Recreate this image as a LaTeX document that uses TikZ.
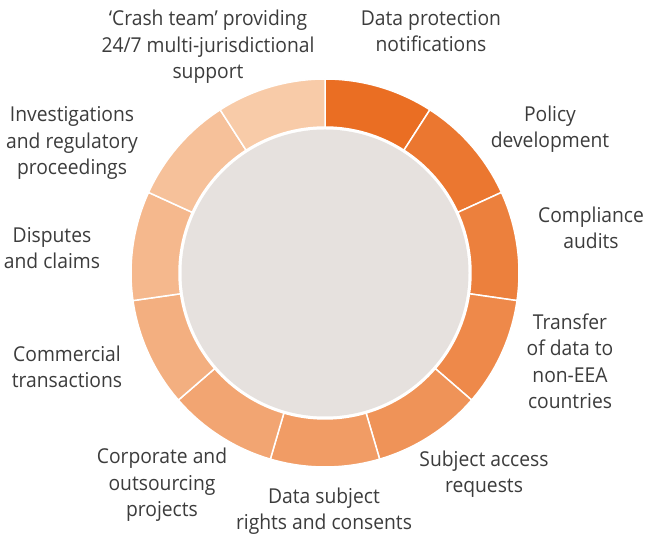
\documentclass[tikz,border=0pt]{standalone}
\usepackage{fontspec}
\setmainfont{Open Sans}[FakeStretch=0.94]
\definecolor{txt}{RGB}{60,60,60}
\definecolor{disk}{RGB}{230,225,222}
\begin{document}
\begin{tikzpicture}[x=1pt,y=1pt,
  lbl/.style={align=center, font=\fontsize{20.5}{26.5}\selectfont, text=txt, inner sep=0pt, anchor=base}]
\useasboundingbox (0,0) rectangle (645,535);
\fill[white] (0,0) rectangle (645,535);
\coordinate (c) at (325,262);
\foreach \i in {0,...,10} {
  \pgfmathsetmacro\angA{90-360/11*\i}
  \pgfmathsetmacro\angB{90-360/11*(\i+1)}
  \pgfmathtruncatemacro\cr{234+14*\i/10}
  \pgfmathtruncatemacro\cg{110+93*\i/10}
  \pgfmathtruncatemacro\cb{35+133*\i/10}
  \definecolor{seg}{RGB}{\cr,\cg,\cb}
  \fill[seg, draw=white, line width=1.5pt] ([shift={(\angA:194)}]c) arc[start angle=\angA, end angle=\angB, radius=194]
    -- ([shift={(\angB:146)}]c) arc[start angle=\angB, end angle=\angA, radius=146] -- cycle;
}
\fill[disk] (c) circle[radius=143.5];
\node[lbl] (crash) at (208,456) {‘Crash team’ providing\\24/7 multi-jurisdictional\\support};
\node[lbl] (dpn) at (431,483) {Data protection\\notifications};
\node[lbl] (policy) at (550,387) {Policy\\development};
\node[lbl] (invest) at (72,360) {Investigations\\and regulatory\\proceedings};
\node[lbl] (compl) at (591,286) {Compliance\\audits};
\node[lbl] (disp) at (52,266) {Disputes\\and claims};
\node[lbl] (transfer) at (570,126) {Transfer\\of data to\\non-EEA\\countries};
\node[lbl] (comm) at (67,147) {Commercial\\transactions};
\node[lbl] (sar) at (484,42) {Subject access\\requests};
\node[lbl] (corp) at (162,18) {Corporate and\\outsourcing\\projects};
\node[lbl] (dsr) at (324,5) {Data subject\\rights and consents};
\end{tikzpicture}
\end{document}
